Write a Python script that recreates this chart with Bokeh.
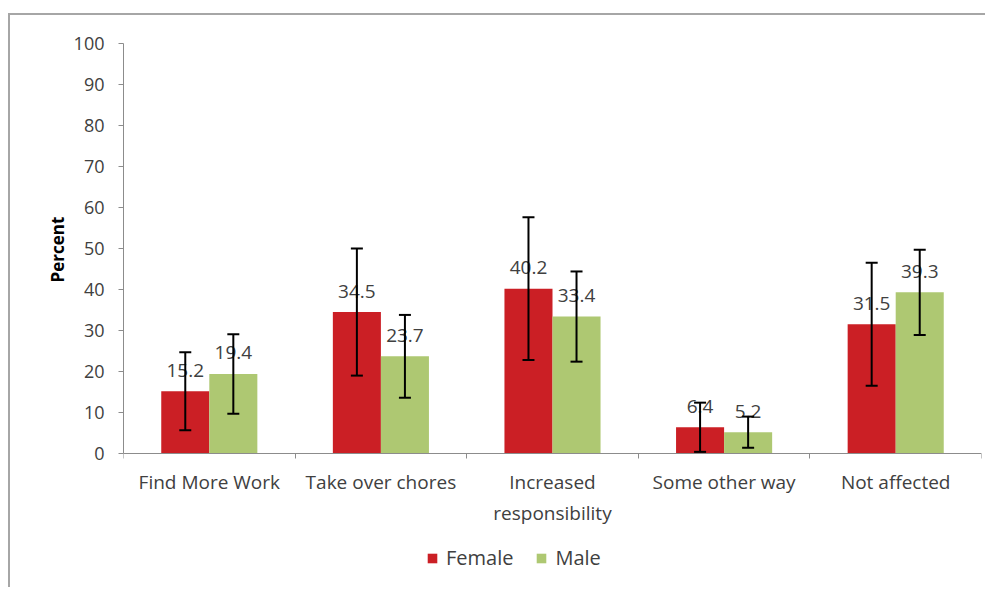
from bokeh.plotting import figure
from bokeh.models import (ColumnDataSource, FixedTicker, Whisker, TeeHead, Legend, LegendItem,
                          Range1d, Title)
from bokeh.core.properties import value
from bokeh.embed import file_html
from bokeh.resources import INLINE

categories = ["Find More Work", "Take over chores", "Increased\nresponsibility",
              "Some other way", "Not affected"]
female = [15.2, 34.5, 40.2, 6.4, 31.5]
male = [19.4, 23.7, 33.4, 5.2, 39.3]
female_err = [9.5, 15.5, 17.4, 6.0, 15.0]
male_err = [9.7, 10.1, 11.0, 3.8, 10.4]
y_ticks = list(range(0, 101, 10))

RED = "#CB1F25"
GREEN = "#AEC872"
TXT = "#404040"
AX = "#8C8C8C"
FONT = "Open Sans"

n = len(categories)
centers = [i + 0.5 for i in range(n)]
off = 0.14
bw = 0.28

fsrc = ColumnDataSource(dict(
    x=[c - off for c in centers], top=female,
    lower=[v - e for v, e in zip(female, female_err)],
    upper=[v + e for v, e in zip(female, female_err)],
    label=[f"{v:.1f}" for v in female]))
msrc = ColumnDataSource(dict(
    x=[c + off for c in centers], top=male,
    lower=[v - e for v, e in zip(male, male_err)],
    upper=[v + e for v, e in zip(male, male_err)],
    label=[f"{v:.1f}" for v in male]))

# frame: 0 -> 410 px above frame bottom area; extra room below for labels and legend
FRAME_H = 541
PX_PER_UNIT = 4.1
y_min = -(FRAME_H - 410) / PX_PER_UNIT

p = figure(frame_width=858, frame_height=FRAME_H,
           min_border_left=113, min_border_top=28, min_border_right=4, min_border_bottom=3,
           x_range=Range1d(0, n), y_range=Range1d(y_min, 100),
           output_backend="svg", toolbar_location=None)
p.styles = {"border-left": "2px solid #A6A6A6", "border-top": "2px solid #A6A6A6",
            "margin-top": "13px", "margin-left": "8px"}
p.outline_line_color = None
p.xgrid.grid_line_color = None
p.ygrid.grid_line_color = None
p.background_fill_color = "white"
p.border_fill_color = "white"

rf = p.vbar(x="x", top="top", width=bw, source=fsrc, fill_color=RED, line_color=None)
rm = p.vbar(x="x", top="top", width=bw, source=msrc, fill_color=GREEN, line_color=None)

for src in (fsrc, msrc):
    p.text(x="x", y="top", text="label", source=src, y_offset=-21,
           text_align="center", text_baseline="middle",
           text_font=value(FONT), text_font_size="19px", text_color=TXT)
    w = Whisker(base="x", lower="lower", upper="upper", source=src,
                line_color="black", line_width=2, level="overlay",
                upper_head=TeeHead(size=12, line_width=2, line_color="black"),
                lower_head=TeeHead(size=12, line_width=2, line_color="black"))
    p.add_layout(w)

# y axis
ya = p.yaxis[0]
ya.ticker = FixedTicker(ticks=y_ticks)
ya.bounds = (0, 100)
ya.axis_line_color = AX
ya.major_tick_line_color = AX
ya.major_tick_in = 0
ya.major_tick_out = 5
ya.minor_tick_line_color = None
ya.major_label_text_font = FONT
ya.major_label_text_font_size = "18px"
ya.major_label_text_color = TXT
ya.major_label_standoff = 14

ytitle = Title(text="Percent", align="left", offset=302, standoff=3,
               text_font=FONT, text_font_style="bold", text_font_size="17px",
               text_color="black")
p.add_layout(ytitle, "left")

# x axis, drawn at y = 0
xa = p.xaxis[0]
xa.fixed_location = 0
xa.ticker = FixedTicker(ticks=centers, minor_ticks=list(range(0, n + 1)))
xa.major_label_overrides = {c: lab for c, lab in zip(centers, categories)}
xa.axis_line_color = AX
xa.major_tick_line_color = None
xa.minor_tick_line_color = AX
xa.minor_tick_in = 0
xa.minor_tick_out = 5
xa.major_label_text_font = FONT
xa.major_label_text_font_size = "19px"
xa.major_label_text_color = TXT
xa.major_label_standoff = 9

legend = Legend(items=[LegendItem(label="Female", renderers=[rf]),
                       LegendItem(label="Male", renderers=[rm])],
                orientation="horizontal", location=(303, 13),
                label_text_font=FONT, label_text_font_size="20px", label_text_color=TXT,
                glyph_width=12, glyph_height=12, spacing=22, label_standoff=8,
                border_line_color=None, background_fill_alpha=0, margin=0, padding=4)
p.add_layout(legend, "center")

open("out.html", "w").write(file_html(p, INLINE))
